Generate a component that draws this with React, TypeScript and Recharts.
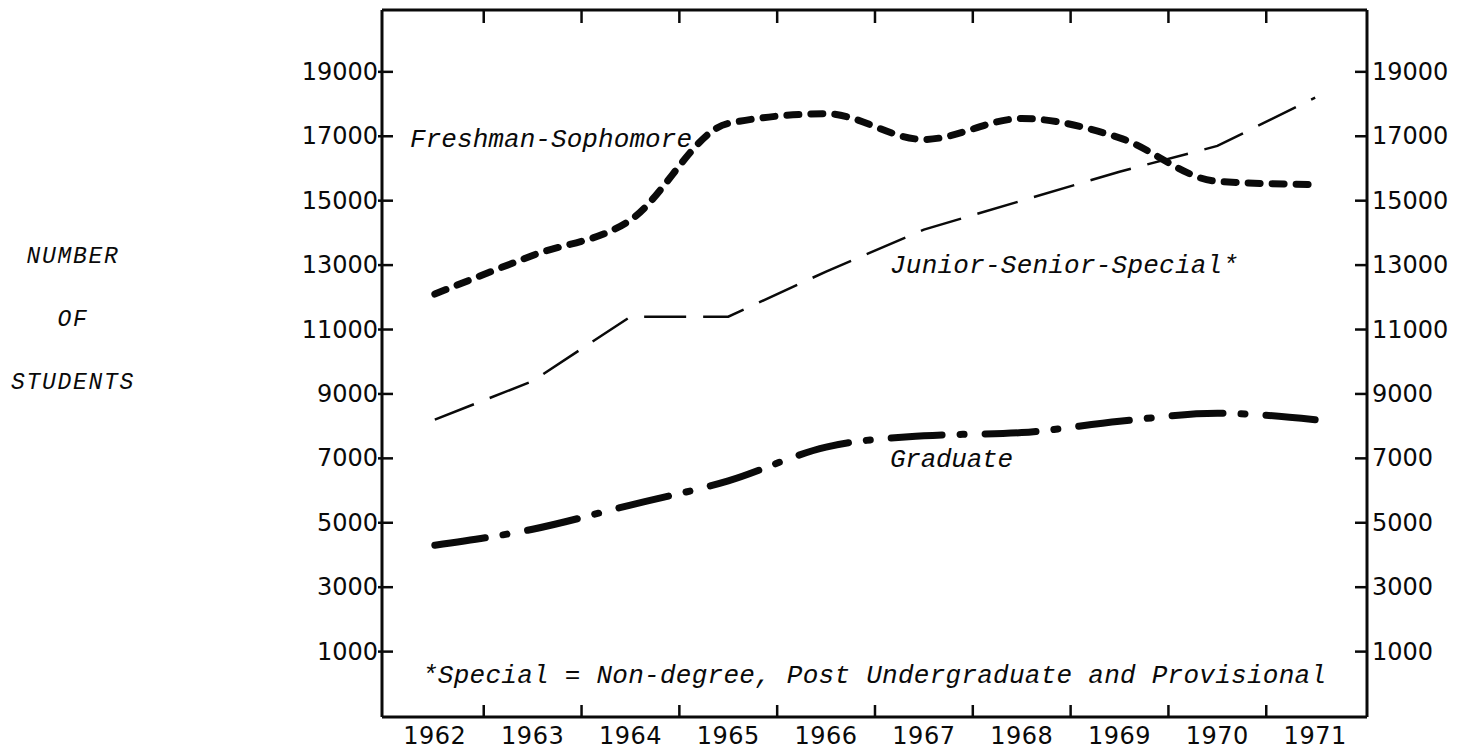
import React from 'react';
import { LineChart, Line, XAxis, YAxis } from 'recharts';

const years = [1962, 1963, 1964, 1965, 1966, 1967, 1968, 1969, 1970, 1971];
const freshmanSophomore = [12100, 13300, 14400, 17400, 17700, 16900, 17550, 16950, 15600, 15500];
const juniorSeniorSpecial = [8200, 9400, 11400, 11400, 12800, 14100, 15000, 15900, 16700, 18200];
const graduate = [4300, 4800, 5550, 6300, 7350, 7700, 7800, 8150, 8400, 8200];

const yTicks = [1000, 3000, 5000, 7000, 9000, 11000, 13000, 15000, 17000, 19000];
const xTickMarks = [1962.5, 1963.5, 1964.5, 1965.5, 1966.5, 1967.5, 1968.5, 1969.5, 1970.5];
const xBottomTicks = [...years, ...xTickMarks].sort((a, b) => a - b);

const yTitle = ['NUMBER', 'OF', 'STUDENTS'];
const footnote = '*Special = Non-degree, Post Undergraduate and Provisional';

const data = years.map((year, i) => ({
  year,
  fs: freshmanSophomore[i],
  jss: juniorSeniorSpecial[i],
  gr: graduate[i],
}));

const X_DOMAIN: [number, number] = [1961.46, 1971.53];
const Y_DOMAIN: [number, number] = [-1030, 20920];

const INK = '#0a0a0a';
const NUM_FONT = '"DejaVu Sans", sans-serif';
const TYPE_FONT = '"Liberation Mono", "DejaVu Sans Mono", monospace';

const LeftTick = (props: any) => {
  const { x, y, payload } = props;
  return (
    <g>
      <line x1={x - 4} x2={x + 11} y1={y} y2={y} stroke={INK} strokeWidth={2.5} />
      <text x={x - 4} y={y} textAnchor="end" dominantBaseline="central" fontFamily={NUM_FONT} fontSize={24} fill={INK}>
        {payload.value}
      </text>
    </g>
  );
};

const RightTick = (props: any) => {
  const { x, y, payload } = props;
  return (
    <g>
      <line x1={x - 12} x2={x} y1={y} y2={y} stroke={INK} strokeWidth={2.5} />
      <text x={x + 5} y={y} textAnchor="start" dominantBaseline="central" fontFamily={NUM_FONT} fontSize={24} fill={INK}>
        {payload.value}
      </text>
    </g>
  );
};

const BottomTick = (props: any) => {
  const { x, y, payload } = props;
  const v = payload.value;
  if (Number.isInteger(v)) {
    return (
      <text x={x} y={y + 19} textAnchor="middle" dominantBaseline="central" fontFamily={NUM_FONT} fontSize={24} letterSpacing={0.5} fill={INK}>
        {v}
      </text>
    );
  }
  return <line x1={x} x2={x} y1={y} y2={y - 12} stroke={INK} strokeWidth={2.5} />;
};

const TopTick = (props: any) => {
  const { x, y } = props;
  return <line x1={x} x2={x} y1={y} y2={y + 13} stroke={INK} strokeWidth={2.5} />;
};

export default function App() {
  const W = 1456;
  const H = 744;
  const typeText = { fontFamily: TYPE_FONT, fontStyle: 'italic' as const, fontSize: 26, fill: INK, lengthAdjust: 'spacing' as const };
  return (
    <div style={{ position: 'relative', width: W, height: H, background: '#fff' }}>
      <LineChart width={W} height={H} data={data} margin={{ top: 1, right: 0, bottom: 0, left: 0 }}>
        <XAxis
          xAxisId="bottom"
          dataKey="year"
          type="number"
          domain={X_DOMAIN}
          allowDataOverflow
          ticks={xBottomTicks}
          interval={0}
          height={35}
          tickSize={0}
          tickMargin={0}
          tickLine={false}
          axisLine={{ stroke: INK, strokeWidth: 3 }}
          tick={<BottomTick />}
        />
        <XAxis
          xAxisId="top"
          orientation="top"
          dataKey="year"
          type="number"
          domain={X_DOMAIN}
          allowDataOverflow
          ticks={xTickMarks}
          interval={0}
          height={1}
          tickSize={0}
          tickMargin={0}
          tickLine={false}
          axisLine={{ stroke: INK, strokeWidth: 3 }}
          tick={<TopTick />}
        />
        <YAxis
          yAxisId="left"
          type="number"
          domain={Y_DOMAIN}
          allowDataOverflow
          ticks={yTicks}
          interval={0}
          width={374}
          tickSize={0}
          tickMargin={0}
          tickLine={false}
          axisLine={{ stroke: INK, strokeWidth: 3 }}
          tick={<LeftTick />}
        />
        <YAxis
          yAxisId="right"
          orientation="right"
          type="number"
          domain={Y_DOMAIN}
          allowDataOverflow
          ticks={yTicks}
          interval={0}
          width={97}
          tickSize={0}
          tickMargin={0}
          tickLine={false}
          axisLine={{ stroke: INK, strokeWidth: 3 }}
          tick={<RightTick />}
        />
        <Line
          xAxisId="bottom"
          yAxisId="left"
          dataKey="fs"
          type="monotone"
          stroke={INK}
          strokeWidth={7}
          strokeLinecap="round"
          strokeDasharray="12 12"
          dot={false}
          activeDot={false}
          isAnimationActive={false}
        />
        <Line
          xAxisId="bottom"
          yAxisId="left"
          dataKey="jss"
          type="linear"
          stroke={INK}
          strokeWidth={2.5}
          strokeDasharray="42 17"
          dot={false}
          activeDot={false}
          isAnimationActive={false}
        />
        <Line
          xAxisId="bottom"
          yAxisId="left"
          dataKey="gr"
          type="monotone"
          stroke={INK}
          strokeWidth={7}
          strokeLinecap="round"
          strokeDasharray="51 18 4 21"
          dot={false}
          activeDot={false}
          isAnimationActive={false}
        />
      </LineChart>
      <svg width={W} height={H} style={{ position: 'absolute', left: 0, top: 0, pointerEvents: 'none' }}>
        <text x={402} y={139} textLength={282} {...typeText}>Freshman-Sophomore</text>
        <text x={882} y={265} textLength={348} {...typeText}>Junior-Senior-Special*</text>
        <text x={882} y={459} textLength={123} {...typeText}>Graduate</text>
        <text x={414} y={675} textLength={904} {...typeText}>{footnote}</text>
        {yTitle.map((t, i) => (
          <text
            key={t}
            x={65}
            y={249 + i * 63}
            textAnchor="middle"
            dominantBaseline="central"
            fontFamily={TYPE_FONT}
            fontStyle="italic"
            fontSize={23}
            letterSpacing={1.7}
            fill={INK}
          >
            {t}
          </text>
        ))}
      </svg>
    </div>
  );
}
